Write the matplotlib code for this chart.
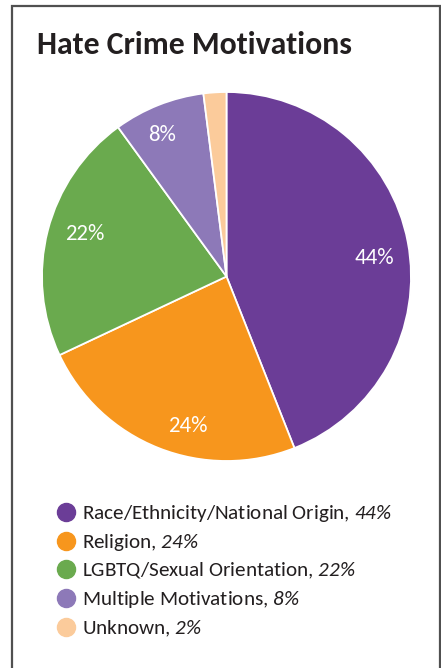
import matplotlib
matplotlib.use("Agg")
from matplotlib import pyplot as plt
from matplotlib.lines import Line2D
from matplotlib.patches import Rectangle

plt.rcParams['font.family'] = ['Carlito', 'DejaVu Sans']
plt.rcParams['mathtext.fontset'] = 'custom'
# mathtext draws digits of \it in the rm face, so both point at the italic face
plt.rcParams['mathtext.rm'] = 'Carlito:italic'
plt.rcParams['mathtext.it'] = 'Carlito:italic'

# data
categories = ["Race/Ethnicity/National Origin", "Religion", "LGBTQ/Sexual Orientation",
              "Multiple Motivations", "Unknown"]
shares = [44, 24, 22, 8, 2]
colors = ["#6B3D97", "#F7961D", "#6AAA4E", "#8D79B8", "#FBCB9B"]
title = "Hate Crime Motivations"

# where the in-slice labels sit (axes units, pie radius = 1), as laid out in the original
label_xy = [(0.80, 0.10), (-0.21, -0.81), (-0.77, 0.23), (-0.35, 0.765), None]

fig = plt.figure(figsize=(4.41, 6.68), dpi=100)

# outer frame
fig.patches.append(Rectangle((12/441, -0.05), 428/441, 1.05 - 6/668, transform=fig.transFigure,
                             fill=False, edgecolor="#505050", linewidth=1.6))

fig.text(37/441, 1 - 45/668, title, fontsize=22.9, fontweight="bold", color="#231F20",
         va="center", ha="left")

ax = fig.add_axes([42/441, 1 - 461/668, 369/441, 369/668])
def fmt(p):
    return "%d%%" % round(p) if p > 5 else ""
wedges, texts, autotexts = ax.pie(shares, colors=colors, startangle=90, counterclock=False,
                                  autopct=fmt, pctdistance=0.81, radius=1,
                                  wedgeprops=dict(edgecolor="white", linewidth=1.3),
                                  textprops=dict(color="white", fontsize=16.5))
for t, xy in zip(autotexts, label_xy):
    if xy is not None:
        t.set_position(xy)
ax.set_xlim(-1, 1)
ax.set_ylim(-1, 1)
ax.set_aspect("equal")
ax.axis("off")

handles = [Line2D([], [], marker="o", linestyle="", markersize=13, markerfacecolor=c,
                  markeredgecolor=c) for c in colors]
labels = ["%s, $%d\\%%$" % (c, s) for c, s in zip(categories, shares)]
fig.legend(handles, labels, loc="upper left", bbox_to_anchor=(56/441, 1 - 503/668),
           frameon=False, fontsize=15.25, handlelength=0.9, handletextpad=0.33,
           labelspacing=0.38, borderpad=0, borderaxespad=0, labelcolor="#231F20")

fig.savefig("out.png", dpi=100)
